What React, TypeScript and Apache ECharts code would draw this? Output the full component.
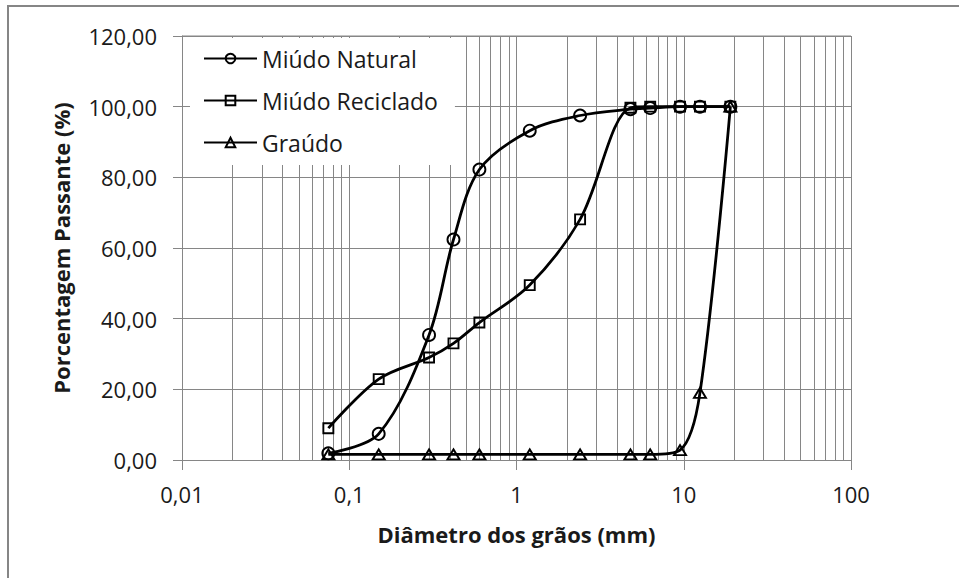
import React, { useEffect, useRef } from "react";
import * as echarts from "echarts";

const sieveSizes = [0.075, 0.15, 0.3, 0.42, 0.6, 1.2, 2.4, 4.8, 6.3, 9.5, 12.5, 19];
const miudoNatural = [1.9, 7.4, 35.4, 62.4, 82.2, 93.2, 97.5, 99.3, 99.6, 100, 100, 100];
const miudoReciclado = [9.0, 22.9, 29.0, 33.0, 38.9, 49.5, 68.1, 99.7, 100, 100, 100, 100];
const graudo = [1.6, 1.6, 1.6, 1.6, 1.6, 1.6, 1.6, 1.6, 1.6, 2.8, 19.0, 100];
const seriesNames = ["Miúdo Natural", "Miúdo Reciclado", "Graúdo"];
const minorGridValues = [
  0.02, 0.03, 0.04, 0.05, 0.06, 0.07, 0.08, 0.09,
  0.2, 0.3, 0.4, 0.5, 0.6, 0.7, 0.8, 0.9,
  2, 3, 4, 5, 6, 7, 8, 9,
  20, 30, 40, 50, 60, 70, 80, 90,
];

export default function App() {
  const ref = useRef<HTMLDivElement>(null);
  useEffect(() => {
    document.body.style.margin = "0";
    const chart = echarts.init(ref.current!, null, { renderer: "svg" });
    const gridColor = "#868686";
    const font = "Open Sans";
    const textColor = "#1a1a1a";
    const pair = (ys: number[]) => sieveSizes.map((x, i) => [x, ys[i]]);
    const mk = (name: string, data: number[], symbol: string, size: any) => ({
      name,
      type: "line",
      data: pair(data),
      smooth: 0.33,
      symbol,
      symbolSize: size,
      showSymbol: true,
      lineStyle: { color: "#000", width: 2.8 },
      itemStyle: { color: "rgba(0,0,0,0)", borderColor: "#000", borderWidth: 1.9 },
      z: 3,
    });
    chart.setOption({
      animation: false,
      backgroundColor: "#fff",
      textStyle: { fontFamily: font },
      grid: { left: 182, right: 108, top: 36, bottom: 118, show: false },
      legend: {
        data: seriesNames,
        orient: "vertical",
        left: 190,
        top: 38,
        padding: [9, 17, 11, 13],
        backgroundColor: "#fff",
        itemWidth: 53,
        itemHeight: 12,
        itemGap: 19,
        textStyle: { fontFamily: font, fontSize: 23, color: textColor },
        z: 10,
      },
      xAxis: {
        type: "log",
        logBase: 10,
        min: 0.01,
        max: 100,
        name: "Diâmetro dos grãos (mm)",
        nameLocation: "middle",
        nameGap: 63,
        nameTextStyle: { fontFamily: font, fontSize: 22, fontWeight: "bold", color: textColor },
        axisLine: { show: true, lineStyle: { color: gridColor, width: 1 } },
        axisTick: { show: true, length: 10, lineStyle: { color: gridColor } },
        axisLabel: {
          fontFamily: font,
          fontSize: 22,
          color: textColor,
          margin: 23,
          formatter: (v: number) => String(v).replace(".", ","),
        },
        splitLine: { show: true, lineStyle: { color: gridColor, width: 1 } },
      },
      yAxis: {
        type: "value",
        min: 0,
        max: 120,
        interval: 20,
        name: "Porcentagem Passante (%)",
        nameLocation: "middle",
        nameGap: 110,
        nameTextStyle: { fontFamily: font, fontSize: 22, fontWeight: "bold", color: textColor },
        axisLine: { show: true, lineStyle: { color: gridColor, width: 1 } },
        axisTick: { show: true, length: 9, lineStyle: { color: gridColor } },
        axisLabel: {
          fontFamily: font,
          fontSize: 22,
          color: textColor,
          margin: 25,
          formatter: (v: number) => v.toFixed(2).replace(".", ","),
        },
        splitLine: { show: true, lineStyle: { color: gridColor, width: 1 } },
      },
      graphic: [
        {
          type: "rect",
          silent: true,
          z: -10,
          shape: { x: 8, y: 6, width: 2000, height: 2000 },
          style: { fill: "none", stroke: gridColor, lineWidth: 2 },
        },
        {
          type: "line",
          silent: true,
          z: 0,
          shape: { x1: 182, y1: 36, x2: 851, y2: 36 },
          style: { stroke: gridColor, lineWidth: 1 },
        },
      ],
      series: [
        {
          name: "grid-minor",
          type: "line",
          data: [],
          z: 1,
          silent: true,
          markLine: {
            silent: true,
            z: 1,
            symbol: ["none", "none"],
            label: { show: false },
            lineStyle: { color: gridColor, width: 1, type: "solid" },
            data: minorGridValues.map((v) => ({ xAxis: v })),
          },
        },
        mk(seriesNames[0], miudoNatural, "circle", 12),
        mk(seriesNames[1], miudoReciclado, "rect", 10),
        mk(seriesNames[2], graudo, "triangle", [12, 10]),
      ],
    });
    return () => chart.dispose();
  }, []);
  return <div ref={ref} style={{ width: 959, height: 578 }} />;
}
